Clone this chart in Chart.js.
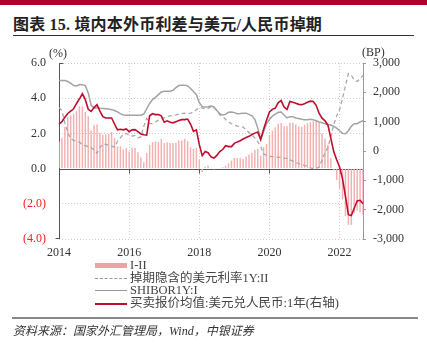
<!DOCTYPE html>
<html>
<head>
<meta charset="utf-8">
<script src="https://cdn.jsdelivr.net/npm/chart.js@4.4.0/dist/chart.umd.min.js"></script>
<style>
  body { margin: 0; width: 427px; height: 354px; position: relative; background: #fff; overflow: hidden;
         font-family: "Liberation Serif", "Noto Sans CJK SC", serif; color: #222; }
  #topbar { position: absolute; left: 0; top: 0; width: 427px; height: 5px; background: #B0002B; }
  #title { position: absolute; left: 13px; top: 11px; font-size: 16px; font-weight: bold; white-space: nowrap; letter-spacing: 0.2px; }
  #titleRule { position: absolute; left: 13px; top: 35px; width: 401px; height: 1px; background: #333; }
  #chart { position: absolute; left: 0; top: 0; }
  .unit { position: absolute; font-size: 12px; color: #333; }
  #legend { position: absolute; left: 95px; top: 259px; font-size: 12.5px; color: #444; }
  .row { position: relative; height: 12.7px; }
  .sw { position: absolute; left: 0; width: 32px; }
  .lbl { position: absolute; left: 35px; top: -1px; white-space: nowrap; line-height: 14px; }
  #bottomRule { position: absolute; left: 12px; top: 317px; width: 406px; height: 2px; background: #888; }
  #source { position: absolute; left: 13px; top: 321px; font-size: 12px; font-style: italic; color: #333; white-space: nowrap; }
</style>
</head>
<body>
<div id="topbar"></div>
<div id="title">图表 15. 境内本外币利差与美元/人民币掉期</div>
<div id="titleRule"></div>
<canvas id="chart" width="427" height="354"></canvas>
<div class="unit" style="left:49px;top:46px;">(%)</div>
<div class="unit" style="left:362px;top:45px;">(BP)</div>
<div id="legend">
  <div class="row"><div class="sw" style="top:4px;height:5px;background:#EBA3A3;"></div><div class="lbl">I-II</div></div>
  <div class="row"><div class="sw" style="top:6px;border-top:1px dashed #999;"></div><div class="lbl">掉期隐含的美元利率1Y:II</div></div>
  <div class="row"><div class="sw" style="top:6px;border-top:1px solid #999;"></div><div class="lbl">SHIBOR1Y:I</div></div>
  <div class="row"><div class="sw" style="top:6px;border-top:2px solid #C00D2E;"></div><div class="lbl">买卖报价均值:美元兑人民币:1年(右轴)</div></div>
</div>
<div id="bottomRule"></div>
<div id="source">资料来源：国家外汇管理局，Wind，中银证券</div>

<script>
// monthly, Jan 2014 - Sep 2022
var tickYears = ['2014', '2016', '2018', '2020', '2022'];
var months = [];
for (var y = 2014; y <= 2022; y++) {
  for (var m = 1; m <= 12; m++) {
    if (y === 2022 && m > 9) break;
    months.push(y + '-' + (m < 10 ? '0' + m : m));
  }
}

// SHIBOR1Y:I (%)
var shibor = [
  5.0, 5.0, 5.0, 4.95, 4.85, 4.72, 4.7, 4.78, 4.77, 4.72,
  4.3, 3.6, 3.45, 3.45, 3.43, 3.42, 3.4, 3.38, 3.35, 3.3,
  3.22, 3.12, 3.05, 3.03, 3.03, 3.03, 3.03, 3.03, 3.03, 3.1,
  3.4, 3.7, 3.92, 4.05, 4.2, 4.35, 4.4, 4.4, 4.4, 4.45,
  4.6, 4.72, 4.74, 4.74, 4.7, 4.55, 4.38, 4.2, 3.75, 3.52,
  3.5, 3.52, 3.55, 3.5, 3.3, 3.12, 3.05, 3.08, 3.2, 3.22,
  3.18, 3.12, 3.13, 3.15, 3.15, 3.08, 3.0, 2.8, 2.3, 1.7,
  2.1, 2.55, 2.8, 2.98, 3.1, 3.2, 3.22, 3.05, 2.88, 2.95,
  2.95, 2.88, 2.85, 2.8, 2.78, 2.78, 2.8, 2.78, 2.72, 2.65,
  2.6, 2.55, 2.5, 2.48, 2.4, 2.3, 2.15, 2.0, 1.98, 2.15,
  2.4, 2.55, 2.55, 2.65, 2.72
];

// 掉期隐含的美元利率1Y:II (%)
var impliedUsd = [
  3.47, 3.3, 2.6, 2.05, 1.7, 1.6, 1.55, 1.5, 1.35, 1.3,
  1.25, 1.2, 1.05, 0.88, 1.2, 1.4, 1.38, 1.32, 1.28, 1.22,
  1.55, 1.75, 1.95, 2.0, 1.9, 1.85, 1.88, 1.75, 1.8, 2.4,
  2.85, 2.55, 2.55, 2.65, 2.75, 2.82, 2.88, 2.95, 3.0, 3.02,
  3.05, 3.1, 3.12, 3.15, 3.12, 3.15, 3.2, 3.35, 3.47, 3.45,
  3.4, 3.42, 3.5, 3.48, 3.3, 3.05, 2.95, 2.8, 2.65, 2.55,
  2.47, 2.42, 2.38, 2.36, 2.2, 2.05, 1.92, 1.75, 1.52, 1.25,
  0.84, 0.75, 0.7, 0.68, 0.66, 0.65, 0.63, 0.6, 0.58, 0.5,
  0.42, 0.35, 0.28, 0.25, 0.18, 0.12, 0.04, 0.0, 0.0, 0.1,
  0.5, 0.9, 1.2, 1.8, 2.5, 3.0, 3.35, 4.0, 4.7, 5.4,
  5.3, 5.05, 4.95, 5.1, 5.3
];

// I-II (%)
var spread = [
  1.56, 1.75, 2.36, 2.93, 3.03, 3.12, 3.26, 3.54, 3.54, 3.22,
  2.97, 2.17, 2.46, 2.51, 2.04, 1.92, 1.94, 1.98, 2.08, 1.75,
  1.26, 1.26, 1.09, 1.16, 0.97, 1.18, 1.18, 0.93, 0.65, 0.36,
  0.89, 1.35, 1.5, 1.54, 1.5, 1.68, 1.45, 1.5, 1.45, 1.45,
  1.45, 1.6, 1.6, 1.68, 1.56, 1.22, 1.12, 1.18, 0.5, -0.2,
  0.11, 0.17, 0.05, -0.05, 0.0, 0.04, 0.08, 0.17, 0.3, 0.45,
  0.6, 0.6, 0.59, 0.55, 0.69, 0.8, 0.9, 1.05, 1.12, 0.74,
  1.22, 1.41, 1.9, 2.15, 2.35, 2.55, 2.6, 2.4, 2.4, 2.6,
  2.6, 2.5, 2.4, 2.38, 2.5, 2.58, 2.65, 2.7, 2.7, 2.6,
  2.0, 1.7, 1.35, 0.6, -0.1, -0.65, -1.15, -1.75, -2.7, -3.2,
  -3.2, -2.55, -2.4, -2.5, -2.6
];

// 买卖报价均值:美元兑人民币:1年 (BP, 右轴)
var swapPoints = [
  920, 1000, 1150, 1280, 1360, 1440, 1620, 1780, 1950, 1750,
  1420, 1350, 1480, 1580, 1360, 1170, 1125, 1125, 1125, 920,
  720, 740, 720, 750, 660, 720, 730, 660, 580, 555,
  540, 1200, 1270, 1240, 1240, 1200, 980, 1030, 980, 960,
  1000, 1040, 1070, 1070, 1090, 920, 670, 720, 215, -160,
  -20, -60, -200, -240, -150, -20, 50, 180, 150, 150,
  260, 310, 350, 410, 460, 500, 560, 610, 650, 385,
  740, 1050, 1330, 1420, 1465, 1650, 1720, 1500, 1420, 1690,
  1660, 1630, 1590, 1580, 1610, 1660, 1700, 1690, 1550, 1280,
  1120, 1030, 880, 430, -30, -300, -550, -950, -1550, -2170,
  -2200, -1950, -1700, -1680, -1800
];

var serif = "'Liberation Serif', serif";

function yearLabel(i) {
  var lab = months[i];
  if (lab.slice(5) === '01' && tickYears.indexOf(lab.slice(0, 4)) >= 0) return lab.slice(0, 4);
  return '';
}

// left axis line + zero line with small tick marks, like the original
var axisLines = {
  id: 'axisLines',
  beforeDatasetsDraw: function(chart) {
    var ctx = chart.ctx, area = chart.chartArea;
    var y0 = Math.round(chart.scales.y.getPixelForValue(0)) + 0.5;
    var xs = chart.scales.x;
    var xl = Math.round(area.left) + 0.5;
    ctx.save();
    ctx.lineWidth = 1;
    ctx.strokeStyle = '#555';
    ctx.beginPath();
    ctx.moveTo(xl, area.top);
    ctx.lineTo(xl, area.bottom);
    ctx.moveTo(xl, Math.round(area.top) + 0.5);
    ctx.lineTo(xl + 4, Math.round(area.top) + 0.5);
    ctx.moveTo(xl, Math.round(area.bottom) - 0.5);
    ctx.lineTo(xl - 4, Math.round(area.bottom) - 0.5);
    ctx.moveTo(area.left, y0);
    ctx.lineTo(area.right, y0);
    for (var i = 1; i < months.length; i++) {
      if (yearLabel(i)) {
        var x = Math.round(xs.getPixelForValue(i)) + 0.5;
        ctx.moveTo(x, y0);
        ctx.lineTo(x, y0 + 4);
      }
    }
    ctx.stroke();
    ctx.restore();
  }
};

var chart = new Chart(document.getElementById('chart').getContext('2d'), {
  type: 'bar',
  data: {
    labels: months,
    datasets: [
      {
        type: 'line', label: '买卖报价均值:美元兑人民币:1年(右轴)', data: swapPoints, yAxisID: 'y2',
        borderColor: '#C00D2E', borderWidth: 1.6, pointRadius: 0, tension: 0, order: 1
      },
      {
        type: 'line', label: 'SHIBOR1Y:I', data: shibor, yAxisID: 'y',
        borderColor: '#A3A3A3', borderWidth: 1.5, pointRadius: 0, tension: 0, order: 2
      },
      {
        type: 'line', label: '掉期隐含的美元利率1Y:II', data: impliedUsd, yAxisID: 'y',
        borderColor: '#A8A8A8', borderWidth: 1.3, borderDash: [4, 3], pointRadius: 0, tension: 0, order: 3
      },
      {
        label: 'I-II', data: spread, yAxisID: 'y',
        backgroundColor: '#F2B0B0', barPercentage: 0.5, categoryPercentage: 1.0, order: 4
      }
    ]
  },
  options: {
    responsive: false,
    animation: false,
    devicePixelRatio: 1,
    layout: { padding: { top: 63, left: 0, right: 0, bottom: 90 } },
    plugins: { legend: { display: false }, tooltip: { enabled: false } },
    scales: {
      x: {
        offset: false,
        afterFit: function(s) { s.height = 25; },
        border: { display: false, dash: [1, 2] },
        grid: {
          offset: false, drawTicks: false, lineWidth: 1,
          color: function(c) { return (c.index > 0 && yearLabel(c.index)) ? '#D0D0D0' : 'transparent'; }
        },
        ticks: {
          autoSkip: false, maxRotation: 0, padding: 7, color: '#333',
          font: { family: serif, size: 12 },
          callback: function(v, i) { return yearLabel(i); }
        }
      },
      y: {
        position: 'left', min: -4, max: 6,
        afterFit: function(s) { s.width = 59; },
        border: { display: false, dash: [1, 2] },
        grid: {
          drawTicks: false, lineWidth: 1,
          color: function(c) { return c.tick && c.tick.value === 0 ? 'transparent' : '#CCCCCC'; }
        },
        ticks: {
          stepSize: 2, padding: 13,
          font: { family: serif, size: 12 },
          color: function(c) { return c.tick.value < 0 ? '#F01E1E' : '#333'; },
          callback: function(v) { return v < 0 ? '(' + (-v).toFixed(1) + ')' : v.toFixed(1); }
        }
      },
      y2: {
        position: 'right', min: -3000, max: 3000,
        afterFit: function(s) { s.width = 64; },
        border: { display: true, color: '#9A9A9A', width: 1 },
        grid: { drawOnChartArea: false, drawTicks: true, tickLength: 3, color: '#9A9A9A' },
        ticks: {
          stepSize: 1000, padding: 7, color: '#333',
          font: { family: serif, size: 12 },
          callback: function(v) { return v.toLocaleString('en-US'); }
        }
      }
    }
  },
  plugins: [axisLines]
});
</script>
</body>
</html>
